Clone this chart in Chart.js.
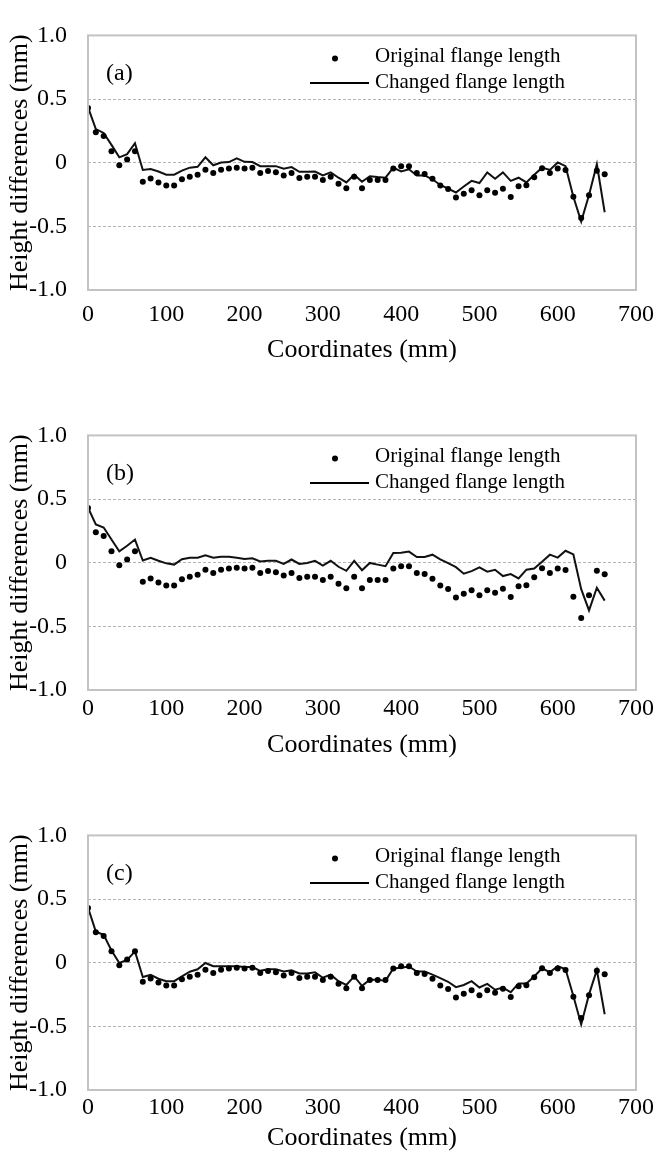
<!DOCTYPE html>
<html>
<head>
<meta charset="utf-8">
<script src="https://cdn.jsdelivr.net/npm/chart.js@4.4.1/dist/chart.umd.min.js"></script>
<style>
  html, body { margin: 0; padding: 0; background: #fff; }
  #wrap { position: relative; width: 657px; height: 1156px; overflow: hidden; }
  canvas { position: absolute; left: 0; }
</style>
</head>
<body>
<div id="wrap">
  <canvas id="chart-a" width="657" height="400" style="top:0"></canvas>
  <canvas id="chart-b" width="657" height="400" style="top:400px"></canvas>
  <canvas id="chart-c" width="657" height="356" style="top:800px"></canvas>
</div>
<script>
// measurement positions along the flange (mm)
const coordinates = [0, 10, 20, 30, 40, 50, 60, 70, 80, 90, 100, 110, 120, 130, 140, 150, 160, 170, 180, 190,
  200, 210, 220, 230, 240, 250, 260, 270, 280, 290, 300, 310, 320, 330, 340, 350, 360, 370, 380, 390,
  400, 410, 420, 430, 440, 450, 460, 470, 480, 490, 500, 510, 520, 530, 540, 550, 560, 570, 580, 590,
  600, 610, 620, 630, 640, 650, 660];

// same measured points in all three panels
const originalFlange = [0.43, 0.24, 0.21, 0.09, -0.02, 0.025, 0.09, -0.15, -0.125, -0.155,
  -0.18, -0.18, -0.13, -0.11, -0.095, -0.055, -0.08, -0.055, -0.045, -0.04,
  -0.045, -0.04, -0.08, -0.065, -0.075, -0.1, -0.08, -0.12, -0.11, -0.11,
  -0.135, -0.11, -0.165, -0.2, -0.11, -0.2, -0.135, -0.135, -0.135, -0.045,
  -0.027, -0.027, -0.08, -0.088, -0.127, -0.18, -0.207, -0.273, -0.244, -0.217,
  -0.256, -0.217, -0.236, -0.205, -0.27, -0.185, -0.178, -0.115, -0.044, -0.081,
  -0.045, -0.058, -0.268, -0.435, -0.256, -0.064, -0.09];

const changedA = [0.436, 0.264, 0.234, 0.14, 0.042, 0.067, 0.153, -0.057, -0.049, -0.069,
  -0.094, -0.094, -0.062, -0.039, -0.032, 0.042, -0.02, 0.002, 0.005, 0.034,
  0.007, 0.005, -0.027, -0.027, -0.027, -0.047, -0.034, -0.071, -0.071, -0.069,
  -0.1, -0.076, -0.118, -0.155, -0.094, -0.15, -0.106, -0.113, -0.118, -0.039,
  -0.069, -0.052, -0.1, -0.1, -0.13, -0.175, -0.204, -0.234, -0.187, -0.143,
  -0.16, -0.076, -0.126, -0.076, -0.143, -0.118, -0.155, -0.094, -0.039, -0.057,
  0.002, -0.027, -0.268, -0.463, -0.254, -0.012, -0.389];

const changedB = [0.433, 0.3, 0.276, 0.182, 0.089, 0.133, 0.182, 0.017, 0.039, 0.015,
  -0.005, -0.015, 0.027, 0.039, 0.039, 0.059, 0.039, 0.047, 0.047, 0.039,
  0.03, 0.034, 0.01, 0.015, 0.015, -0.01, 0.025, -0.01, -0.002, 0.015,
  -0.022, 0.015, -0.032, -0.064, 0.015, -0.059, -0.002, -0.015, -0.027, 0.077,
  0.079, 0.087, 0.045, 0.045, 0.063, 0.026, -0.004, -0.035, -0.086, -0.066,
  -0.037, -0.071, -0.056, -0.105, -0.089, -0.124, -0.055, -0.046, 0.007, 0.063,
  0.04, 0.094, 0.065, -0.208, -0.375, -0.197, -0.298];

const changedC = [0.433, 0.244, 0.219, 0.096, -0.002, 0.022, 0.089, -0.113, -0.096, -0.126,
  -0.145, -0.145, -0.108, -0.071, -0.052, -0.002, -0.027, -0.027, -0.027, -0.027,
  -0.034, -0.034, -0.064, -0.052, -0.052, -0.069, -0.059, -0.084, -0.084, -0.076,
  -0.118, -0.094, -0.145, -0.175, -0.108, -0.182, -0.133, -0.133, -0.143, -0.045,
  -0.039, -0.03, -0.069, -0.069, -0.094, -0.121, -0.15, -0.192, -0.175, -0.145,
  -0.195, -0.167, -0.212, -0.195, -0.232, -0.163, -0.163, -0.108, -0.044, -0.076,
  -0.027, -0.052, -0.261, -0.485, -0.249, -0.057, -0.405];

const yTicks = [-1, -0.5, 0, 0.5, 1];
const xTicks = [0, 100, 200, 300, 400, 500, 600, 700];
const seriesNames = ["Original flange length", "Changed flange length"];

const serif = '"Liberation Serif", "Times New Roman", serif';

// frame, panel tag and the legend inside the plot box
const panelDecor = {
  id: "panelDecor",
  afterDraw(chart, args, opts) {
    const { ctx, chartArea: a } = chart;
    ctx.save();
    ctx.strokeStyle = "#c3c3c3";
    ctx.lineWidth = 2;
    ctx.strokeRect(a.left, a.top, a.right - a.left, a.bottom - a.top);

    ctx.fillStyle = "#000";
    ctx.textBaseline = "middle";
    ctx.font = "24px " + serif;
    ctx.fillText(opts.tag, a.left + 18, a.top + 38);

    const ds = chart.data.datasets;
    ctx.font = "21px " + serif;
    ctx.beginPath();
    ctx.arc(a.left + 247, a.top + 23, 3, 0, Math.PI * 2);
    ctx.fill();
    ctx.fillText(ds[0].label, a.left + 287, a.top + 21);

    ctx.strokeStyle = "#000";
    ctx.lineWidth = 2;
    ctx.beginPath();
    ctx.moveTo(a.left + 222, a.top + 47.5);
    ctx.lineTo(a.left + 281, a.top + 47.5);
    ctx.stroke();
    ctx.fillText(ds[1].label, a.left + 287, a.top + 47);
    ctx.restore();
  },
};

const panels = [
  { id: "chart-a", tag: "(a)", changed: changedA, tickPad: 10, xh: 76, padBottom: 34 },
  { id: "chart-b", tag: "(b)", changed: changedB, tickPad: 4, xh: 71, padBottom: 39 },
  { id: "chart-c", tag: "(c)", changed: changedC, tickPad: 3, xh: 64, padBottom: 2 },
];

panels.forEach((p) => {
  new Chart(document.getElementById(p.id), {
    type: "line",
    data: {
      datasets: [
        {
          label: seriesNames[0],
          data: coordinates.map((x, i) => ({ x: x, y: originalFlange[i] })),
          showLine: false,
          pointRadius: 3,
          pointBorderWidth: 0,
          pointBackgroundColor: "#000",
          borderColor: "#000",
        },
        {
          label: seriesNames[1],
          data: coordinates.map((x, i) => ({ x: x, y: p.changed[i] })),
          borderColor: "#111",
          borderWidth: 2,
          pointRadius: 0,
          tension: 0,
        },
      ],
    },
    options: {
      responsive: false,
      animation: false,
      events: [],
      layout: { padding: { left: 0, right: 21, top: 19, bottom: p.padBottom } },
      plugins: {
        legend: { display: false },
        tooltip: { enabled: false },
        panelDecor: { tag: p.tag },
      },
      scales: {
        x: {
          type: "linear",
          min: 0,
          max: 700,
          afterBuildTicks: (s) => { s.ticks = xTicks.map((v) => ({ value: v })); },
          afterFit: (s) => {
            s.height = p.xh;
            s.paddingLeft = 0;
            s.paddingRight = 0;
          },
          grid: { display: false, drawTicks: false },
          border: { display: false },
          ticks: { color: "#000", padding: p.tickPad, maxRotation: 0, font: { family: serif, size: 24 } },
          title: {
            display: true,
            text: "Coordinates (mm)",
            color: "#000",
            padding: 0,
            font: { family: serif, size: 26 },
          },
        },
        y: {
          min: -1,
          max: 1,
          afterBuildTicks: (s) => { s.ticks = yTicks.map((v) => ({ value: v })); },
          afterFit: (s) => { s.width = 88; },
          grid: {
            drawTicks: false,
            color: (c) => (Math.abs(c.tick.value) === 1 ? "rgba(0,0,0,0)" : "#b4b4b4"),
            lineWidth: 1,
          },
          border: { display: false, dash: [3, 2] },
          ticks: {
            color: "#000",
            padding: 21,
            font: { family: serif, size: 24 },
            callback: (v) => (v === 0 ? "0" : v.toFixed(1)),
          },
          title: {
            display: true,
            text: "Height differences (mm)",
            color: "#000",
            padding: { top: 5, bottom: 0 },
            font: { family: serif, size: 26 },
          },
        },
      },
    },
    plugins: [panelDecor],
  });
});
</script>
</body>
</html>
